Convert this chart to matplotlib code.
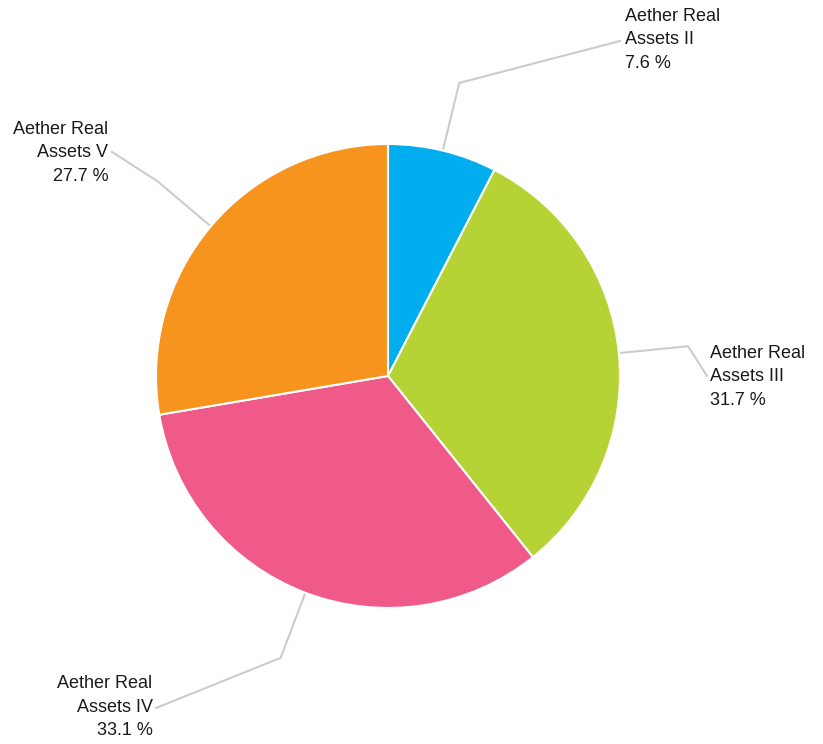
import numpy as np
import matplotlib.pyplot as plt

labels = ['Aether Real\nAssets II', 'Aether Real\nAssets III', 'Aether Real\nAssets IV', 'Aether Real\nAssets V']
shares = [7.6, 31.7, 33.1, 27.7]
colors = ['#00AEEF', '#B5D334', '#EF5A88', '#F7941E']

plt.rcParams['font.family'] = ['Liberation Sans Narrow', 'Liberation Sans', 'DejaVu Sans']

# label anchor (data units, radius 1 = pie) and alignment
label_pos = [(1.02, 1.449, 'left'), (1.388, -0.003, 'left'), (-1.015, -1.427, 'right'), (-1.205, 0.962, 'right')]
line_ends = [(1.0, 1.444), (1.375, 0.0), (-1.0, -1.431), (-1.19, 0.966)]

fig = plt.figure(figsize=(8.23, 7.44), dpi=100)
ax = fig.add_axes([0, 0, 1, 1])

wedges, _ = ax.pie(shares, colors=colors, startangle=90, counterclock=False,
                   radius=1, wedgeprops=dict(edgecolor='white', linewidth=1.5))

ax.set_xlim(-388 / 232, (823 - 388) / 232)
ax.set_ylim(-(744 - 376) / 232, 376 / 232)
ax.set_aspect('equal')
ax.axis('off')

for w, lab, s, end, lp in zip(wedges, labels, shares, line_ends, label_pos):
    mid = np.deg2rad((w.theta1 + w.theta2) / 2)
    p0 = (np.cos(mid), np.sin(mid))
    p1 = (1.3 * np.cos(mid), 1.3 * np.sin(mid))
    ax.plot([p0[0], p1[0], end[0]], [p0[1], p1[1], end[1]], color='#cccccc', lw=1.5, zorder=0)
    txt = lab + '\n' + f'{s:.1f} %'
    x, y, al = lp
    ax.text(x, y, txt, ha=al, va='center', multialignment=al,
            fontsize=13, color='#1a1a1a', linespacing=1.5)

fig.savefig('out.png', dpi=100, facecolor='white')
